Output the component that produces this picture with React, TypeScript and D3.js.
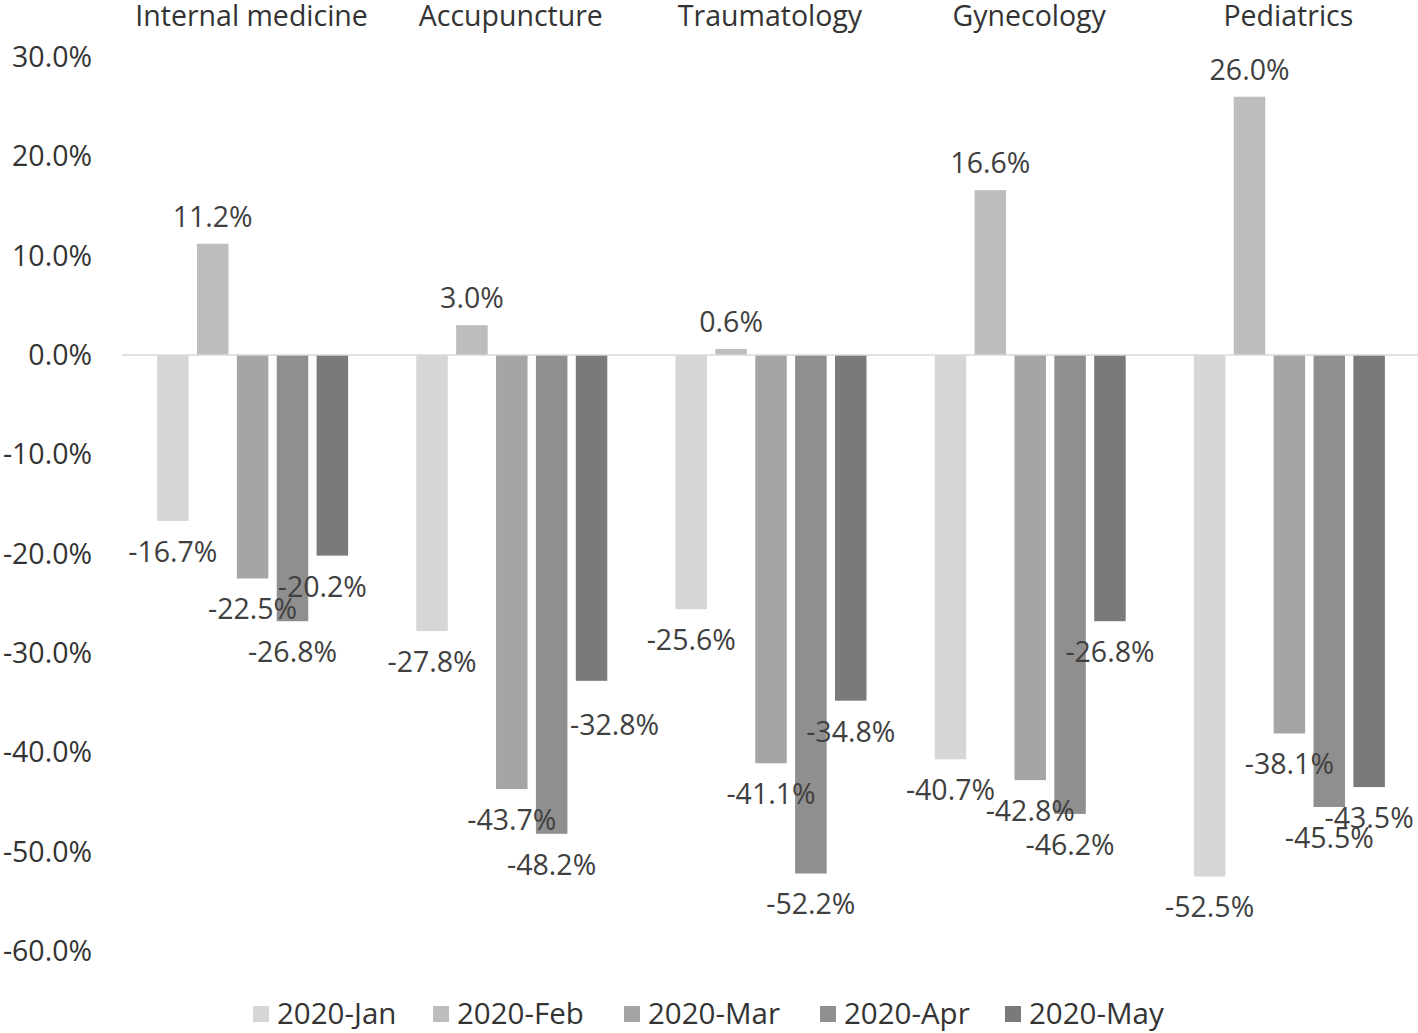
import React from "react";
import * as d3 from "d3";

const categories = ["Internal medicine", "Accupuncture", "Traumatology", "Gynecology", "Pediatrics"];
const seriesNames = ["2020-Jan", "2020-Feb", "2020-Mar", "2020-Apr", "2020-May"];
const jan = [-16.7, -27.8, -25.6, -40.7, -52.5];
const feb = [11.2, 3.0, 0.6, 16.6, 26.0];
const mar = [-22.5, -43.7, -41.1, -42.8, -38.1];
const apr = [-26.8, -48.2, -52.2, -46.2, -45.5];
const may = [-20.2, -32.8, -34.8, -26.8, -43.5];
const yTicks = [30, 20, 10, 0, -10, -20, -30, -40, -50, -60];
const colors = ["#d6d6d6", "#bdbdbd", "#a5a5a5", "#8f8f8f", "#7a7a7a"];
// manual label nudges (series index, category index, dx, dy) like Excel dragged labels
const labelNudges: [number, number, number, number][] = [
  [4, 0, -10, 0],
  [4, 1, 23, 13],
];

const W = 1418;
const H = 1033;
const FONT = "'Open Sans', sans-serif";

export default function App() {
  const series = [jan, feb, mar, apr, may];
  const y = d3.scaleLinear().domain([-60, 30]).range([951, 57]);
  const x0 = d3.scaleBand<string>().domain(categories).range([122, 1418]).paddingInner(0).paddingOuter(0);
  const groupW = 191;
  const x1 = d3
    .scaleBand<string>()
    .domain(seriesNames)
    .range([0, groupW])
    .paddingInner(0.21)
    .paddingOuter(0);
  const groupOffset = (x0.bandwidth() - groupW) / 2 + 1;
  const fmt = (v: number) => v.toFixed(1) + "%";

  const nudge = (s: number, c: number) => {
    const n = labelNudges.find((d) => d[0] === s && d[1] === c);
    return n ? [n[2], n[3]] : [0, 0];
  };

  return (
    <div style={{ position: "absolute", left: 0, top: 0 }}>
      <svg width={W} height={H} style={{ display: "block", background: "#fff" }}>
        {/* y axis labels */}
        {yTicks.map((t) => (
          <text
            key={t}
            x={92}
            y={y(t)}
            dy="0.35em"
            textAnchor="end"
            fontFamily={FONT}
            fontSize={28.5}
            fill="#333"
          >
            {fmt(t)}
          </text>
        ))}
        {/* category labels */}
        {categories.map((c) => (
          <text
            key={c}
            x={(x0(c) as number) + x0.bandwidth() / 2}
            y={16}
            dy="0.35em"
            textAnchor="middle"
            fontFamily={FONT}
            fontSize={28.5}
            fill="#333"
          >
            {c}
          </text>
        ))}
        {/* bars */}
        {series.map((vals, si) =>
          vals.map((v, ci) => {
            const bx = (x0(categories[ci]) as number) + groupOffset + (x1(seriesNames[si]) as number);
            const top = Math.min(y(v), y(0));
            const h = Math.abs(y(v) - y(0));
            return (
              <rect
                key={`b${si}-${ci}`}
                x={bx}
                y={top}
                width={x1.bandwidth()}
                height={h}
                fill={colors[si]}
              />
            );
          })
        )}
        {/* zero line */}
        <line x1={122} x2={1418} y1={y(0)} y2={y(0)} stroke="#d9d9d9" strokeWidth={1.5} />
        {/* data labels */}
        {series.map((vals, si) =>
          vals.map((v, ci) => {
            const bx = (x0(categories[ci]) as number) + groupOffset + (x1(seriesNames[si]) as number);
            const cx = bx + x1.bandwidth() / 2;
            const [dx, dy] = nudge(si, ci);
            const ly = v >= 0 ? y(v) - 27 : y(v) + 31;
            return (
              <text
                key={`l${si}-${ci}`}
                x={cx + dx}
                y={ly + dy}
                dy="0.35em"
                textAnchor="middle"
                fontFamily={FONT}
                fontSize={28.5}
                fill="#404040"
              >
                {fmt(v)}
              </text>
            );
          })
        )}
        {/* legend */}
        {seriesNames.map((s, i) => {
          const lx = [253, 433, 624, 820, 1005][i];
          return (
            <g key={s} transform={`translate(${lx},1014)`}>
              <rect x={0} y={-8} width={16} height={16} fill={colors[i]} />
              <text x={24} y={0} dy="0.35em" fontFamily={FONT} fontSize={29.5} fill="#333">
                {s}
              </text>
            </g>
          );
        })}
      </svg>
    </div>
  );
}
